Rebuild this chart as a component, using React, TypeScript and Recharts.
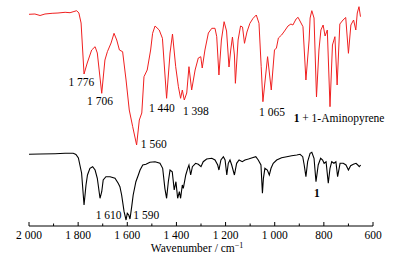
import React from 'react';
import { LineChart, Line, XAxis, YAxis, ReferenceDot } from 'recharts';

// Red spectrum: 1 + 1-Aminopyrene (wavenumber, transmittance in arbitrary units)
const redWn = [2000, 1976, 1955, 1935, 1906, 1882, 1853, 1833, 1817, 1806, 1797, 1788, 1776, 1763, 1745, 1731, 1722, 1704, 1691, 1681, 1666, 1654, 1643, 1632, 1619, 1605, 1592, 1578, 1562, 1551, 1541, 1532, 1519, 1505, 1497, 1487, 1470, 1457, 1440, 1426, 1416, 1403, 1392, 1383, 1376, 1368, 1358, 1349, 1338, 1324, 1311, 1301, 1295, 1284, 1270, 1256, 1243, 1236, 1227, 1217, 1206, 1196, 1186, 1179, 1172, 1164, 1160, 1149, 1139, 1131, 1123, 1113, 1101, 1088, 1075, 1064, 1055, 1048, 1029, 1014, 1001, 993, 985, 972, 960, 946, 934, 926, 913, 905, 895, 885, 873, 860, 856, 849, 840, 830, 820, 812, 803, 795, 786, 775, 765, 755, 746, 735, 722, 711, 700, 690, 679, 670, 664, 657, 651];
const redT = [211.7, 212, 210.5, 212, 212.7, 213, 213.7, 213.3, 214.5, 215.3, 213, 203, 152, 163, 176, 179.3, 173, 132.7, 166, 174.3, 183, 192.7, 186, 176, 174.3, 146, 116, 99.3, 81, 106, 113, 149.3, 156, 176, 192.7, 200, 196, 187.7, 127.7, 173, 192, 159.3, 139.3, 127.7, 136, 126, 133, 159.3, 136, 156, 168, 169.3, 158, 176, 193, 197.7, 197.7, 189.3, 151, 186, 204.3, 195, 159, 176, 189, 171, 142.7, 186, 200, 199, 182.7, 194, 202.7, 207.7, 211, 202.7, 159.3, 124.3, 169.3, 136, 176, 178, 188, 191, 195, 200, 202, 201, 207, 208.7, 204, 199.3, 146, 186, 208, 215.3, 208, 129, 176, 196, 201, 190, 196, 119.3, 181, 189.3, 141, 202, 206, 208.5, 172.7, 201, 206, 196, 213, 219.3, 209.3];

// Black spectrum: compound 1
const blackWn = [2000, 1955, 1894, 1853, 1820, 1809, 1799, 1786, 1776, 1768, 1762, 1752, 1741, 1731, 1722, 1711, 1704, 1698, 1687, 1670, 1650, 1637, 1630, 1623, 1613, 1605, 1600, 1594, 1589, 1582, 1576, 1565, 1555, 1548, 1537, 1524, 1508, 1487, 1467, 1456, 1447, 1440, 1433, 1426, 1417, 1409, 1402, 1395, 1388, 1383, 1376, 1372, 1362, 1354, 1349, 1342, 1335, 1322, 1311, 1300, 1291, 1277, 1256, 1243, 1232, 1227, 1219, 1209, 1202, 1195, 1189, 1182, 1175, 1164, 1155, 1145, 1132, 1121, 1107, 1091, 1077, 1067, 1056, 1050, 1046, 1040, 1030, 1022, 1015, 1006, 992, 972, 951, 931, 910, 897, 886, 880, 873, 866, 856, 849, 840, 832, 823, 813, 805, 799, 791, 782, 775, 768, 759, 751, 744, 734, 721, 710, 700, 691, 680, 669, 662, 656, 650];
const blackT = [71.7, 72, 72.3, 72.7, 72.7, 71.5, 68, 53, 21, 41, 51, 57.7, 59.3, 56, 47.7, 27.7, 34.3, 46, 49.3, 49.3, 47.7, 42.7, 39.3, 31, 14.3, 6, 12.7, 11, 7, 19.3, 31, 44.3, 51, 56, 61, 61.7, 63.7, 64.3, 62.7, 57.7, 37.7, 27.7, 44.3, 56, 54.3, 36, 44.3, 27.7, 34.3, 27.7, 41, 37.7, 51, 57.7, 61, 51, 59.3, 62.7, 61.7, 59.3, 64.3, 67, 67.7, 66, 61, 56, 66, 69.3, 66, 51, 62.7, 66, 61, 51, 62.7, 66, 64.3, 66, 67, 68.3, 69.3, 66, 61, 32.7, 47.7, 57.7, 56, 51, 57.7, 62.7, 66, 68.3, 69.3, 70.3, 71, 71.7, 69.3, 61, 49.3, 64.3, 72.7, 73.7, 67.7, 44.3, 61, 67.7, 66, 62.7, 64.3, 42.7, 57.7, 64.3, 62.7, 64.3, 49.3, 62.7, 62.7, 61, 56, 60.3, 61.7, 62.7, 61, 59.3, 61];

// Axis ticks
const xTicks = [2000, 1900, 1800, 1700, 1600, 1500, 1400, 1300, 1200, 1100, 1000, 900, 800, 700, 600];
const majorTicks = [2000, 1800, 1600, 1400, 1200, 1000, 800, 600];

// Peak annotations
const annText = ['1 776', '1 706', '1 560', '1 440', '1 398', '1 065', '1 610', '1 590'];
const annWn = [1787, 1711, 1545, 1459, 1321, 1011, 1676, 1523];
const annT = [140, 121, 78.5, 114.5, 111, 110, 7, 7];
const annAnchor = ['middle', 'middle', 'start', 'middle', 'middle', 'middle', 'middle', 'middle'];

// Series labels
const seriesLabelWn = [923, 828];
const seriesLabelT = [104, 29];

const redData = redWn.map((wn, i) => ({ wn, t: redT[i] }));
const blackData = blackWn.map((wn, i) => ({ wn, t: blackT[i] }));

const FONT = '"Liberation Serif", "Times New Roman", serif';

const fmt = (v: number) => {
  const s = String(v);
  return s.length > 3 ? s.slice(0, s.length - 3) + ' ' + s.slice(s.length - 3) : s;
};

const Tick = (props: any) => {
  const { x, y, payload } = props;
  const major = majorTicks.includes(payload.value);
  return (
    <g>
      <line x1={x} x2={x} y1={y} y2={y - (major ? 4 : 2.5)} stroke="#000" strokeWidth={1} />
      {major && (
        <text x={x} y={y + 12.7} textAnchor="middle" fontFamily={FONT} fontSize={11.5} fill="#000">
          {fmt(payload.value)}
        </text>
      )}
    </g>
  );
};

const AxisLabel = (props: any) => {
  const vb = props.viewBox;
  return (
    <text x={vb.x + vb.width / 2 - 4} y={vb.y + 26} textAnchor="middle" fontFamily={FONT} fontSize={11.5} fill="#000">
      Wavenumber / cm
      <tspan fontSize={8} dy={-4}>−1</tspan>
    </text>
  );
};

export default function App() {
  return (
    <div style={{ position: 'absolute', left: 0, top: 0, width: 406, height: 267, background: '#fff' }}>
      <LineChart width={406} height={267} margin={{ top: 6, right: 33, left: 29, bottom: 11 }}>
        <XAxis
          dataKey="wn"
          type="number"
          domain={[600, 2000]}
          reversed
          allowDataOverflow
          ticks={xTicks}
          interval={0}
          tickSize={0}
          tickMargin={0}
          tickLine={false}
          tick={<Tick />}
          height={30}
          axisLine={{ stroke: '#000', strokeWidth: 1 }}
          label={<AxisLabel />}
        />
        <YAxis hide type="number" domain={[0, 220]} allowDataOverflow />
        <Line data={redData} dataKey="t" stroke="#f02020" strokeWidth={1} dot={false} isAnimationActive={false} type="linear" />
        <Line data={blackData} dataKey="t" stroke="#000" strokeWidth={1.1} dot={false} isAnimationActive={false} type="linear" />
        {annText.map((txt, i) => (
          <ReferenceDot
            key={'a' + i}
            x={annWn[i]}
            y={annT[i]}
            r={0}
            ifOverflow="visible"
            shape={(p: any) => (
              <text x={p.cx} y={p.cy} textAnchor={annAnchor[i] as any} fontFamily={FONT} fontSize={11.5} fill="#000">
                {txt}
              </text>
            )}
          />
        ))}
        <ReferenceDot
          x={seriesLabelWn[0]}
          y={seriesLabelT[0]}
          r={0}
          ifOverflow="visible"
          shape={(p: any) => (
            <text x={p.cx} y={p.cy} textAnchor="start" fontFamily={FONT} fontSize={11.5} fill="#000">
              <tspan fontWeight="bold">1</tspan> + 1-Aminopyrene
            </text>
          )}
        />
        <ReferenceDot
          x={seriesLabelWn[1]}
          y={seriesLabelT[1]}
          r={0}
          ifOverflow="visible"
          shape={(p: any) => (
            <text x={p.cx} y={p.cy} textAnchor="middle" fontFamily={FONT} fontSize={11.5} fontWeight="bold" fill="#000">
              1
            </text>
          )}
        />
      </LineChart>
    </div>
  );
}
